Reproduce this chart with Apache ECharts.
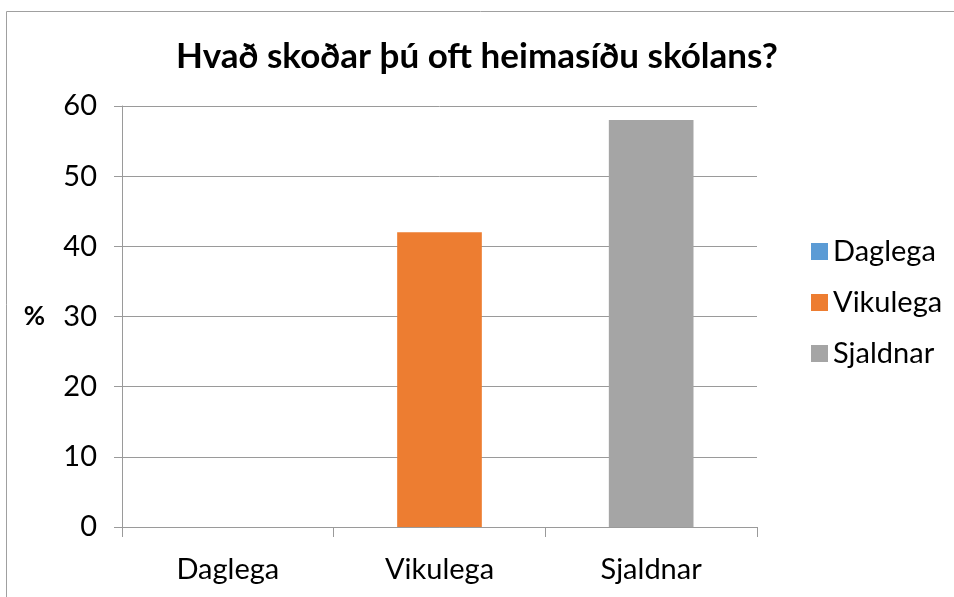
<!DOCTYPE html>
<html><head><meta charset="utf-8">
<script src="https://cdn.jsdelivr.net/npm/echarts@6/dist/echarts.min.js"></script>
<style>html,body{margin:0;padding:0;background:#fff}#c{width:954px;height:597px}</style>
</head><body><div id="c"></div>
<script>
const titleText = 'Hvað skoðar þú oft heimasíðu skólans?';
const categories = ['Daglega', 'Vikulega', 'Sjaldnar'];
const values = [0, 42, 58];
const colors = ['#5B9BD5', '#ED7D31', '#A5A5A5'];
const yTicks = [0, 10, 20, 30, 40, 50, 60];

const FONT = 'Lato, "Open Sans", sans-serif';
const chart = echarts.init(document.getElementById('c'));
const series = categories.map((name, i) => ({
  name: name,
  type: 'bar',
  stack: 'all',
  barWidth: '40%',
  itemStyle: { color: colors[i] },
  data: categories.map((c, j) => (j === i ? values[i] : '-'))
}));
chart.setOption({
  animation: false,
  title: {
    text: titleText, left: 'center', top: 34,
    textStyle: { fontFamily: FONT, fontWeight: 'bold', fontSize: 35, color: '#000' }
  },
  legend: {
    orient: 'vertical', left: 806, top: 232,
    itemWidth: 17, itemHeight: 17, itemGap: 22,
    icon: 'rect',
    textStyle: { fontFamily: FONT, fontSize: 29, color: '#000', padding: [0, 0, 0, 0] },
    data: categories
  },
  grid: { left: 122, right: 954 - 757, top: 106, bottom: 597 - 527, containLabel: false },
  xAxis: {
    type: 'category', data: categories,
    axisLine: { lineStyle: { color: '#9a9a9a', width: 1 } },
    axisTick: { show: true, length: 10, lineStyle: { color: '#9a9a9a' } },
    axisLabel: { fontFamily: FONT, fontSize: 29, color: '#000', margin: 28 }
  },
  yAxis: {
    type: 'value', min: yTicks[0], max: yTicks[yTicks.length - 1], interval: 10,
    name: '%', nameLocation: 'middle', nameGap: 77, nameRotate: 0,
    nameTextStyle: { fontFamily: FONT, fontWeight: 'bold', fontSize: 26, color: '#000' },
    axisLine: { show: true, lineStyle: { color: '#9a9a9a' } },
    axisTick: { show: true, length: 8, lineStyle: { color: '#9a9a9a' } },
    splitLine: { lineStyle: { color: '#9a9a9a', width: 1 } },
    axisLabel: { fontFamily: FONT, fontSize: 29, color: '#000', margin: 25 }
  },
  graphic: [{
    type: 'rect', left: 4, top: 9, z: -1,
    shape: { width: 948, height: 600 },
    style: { fill: 'none', stroke: '#a0a0a0', lineWidth: 1 }
  }],
  series: series
});
</script></body></html>
